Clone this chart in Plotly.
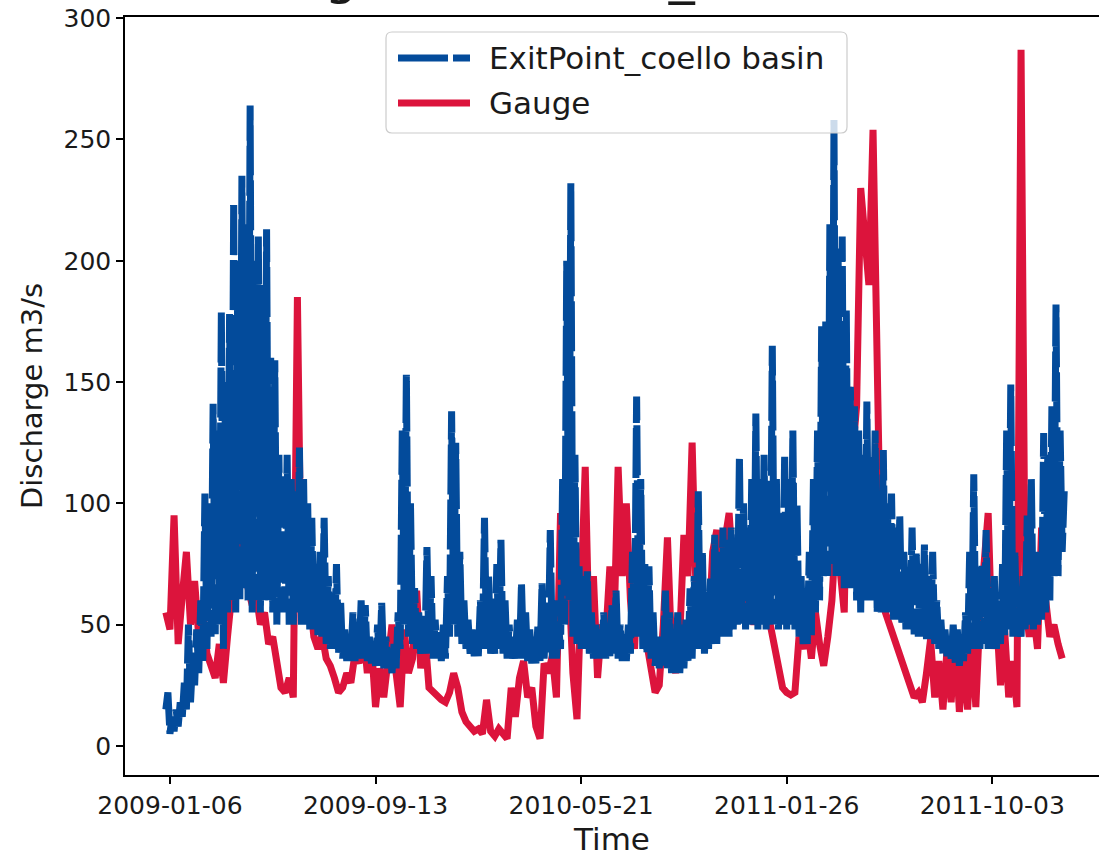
import pandas as pd
import plotly.graph_objects as go

# 5-day windows starting 2009-01-01
start_date = "2009-01-01"
step = "5D"

# Gauge discharge (m3/s), one reading per 5-day window
gauge = [
    55, 48, 95, 42, 62, 80, 50, 68, 45, 55,
    38, 33, 28, 42, 26, 45, 62, 88, 100, 72,
    66, 58, 62, 50, 55, 42, 45, 35, 24, 22,
    28, 20, 185, 55, 68, 62, 45, 40, 46, 36,
    33, 28, 22, 24, 30, 26, 38, 34, 48, 30,
    42, 16, 32, 20, 38, 50, 30, 16, 48, 30,
    36, 64, 32, 46, 24, 22, 20, 19, 18, 22,
    30, 24, 14, 10, 8, 6, 7, 5, 19, 6,
    4, 7, 5, 3, 24, 12, 28, 35, 20, 24,
    8, 3, 34, 30, 37, 20, 96, 60, 70, 30,
    11, 60, 115, 40, 70, 28, 50, 45, 74, 48,
    115, 70, 100, 60, 40, 85, 50, 42, 30, 22,
    25, 50, 86, 40, 30, 45, 87, 70, 125, 60,
    50, 40, 45, 80, 89, 72, 85, 96, 70, 60,
    55, 65, 58, 50, 60, 55, 52, 50, 40, 30,
    24, 22, 21, 22, 45, 40, 50, 36, 55, 42,
    33, 45, 60, 90, 70, 55, 148, 120, 140, 230,
    210, 190, 254, 140, 64, 55, 50, 45, 40, 33,
    28, 25, 20, 22, 18, 30, 44, 20, 35, 15,
    40, 18, 46, 14, 38, 15, 47, 16, 55, 75,
    96, 40, 55, 25, 48, 20, 35, 16, 287, 60,
    45, 55, 40, 90, 60, 45, 50, 42, 36,
]

# ExitPoint_coello basin: low and high reading in each 5-day window
exit_low = [
    15, 5, 6, 8, 12, 15, 18, 25, 30, 35,
    40, 45, 45, 50, 40, 55, 60, 55, 60, 65,
    60, 55, 60, 55, 60, 60, 55, 50, 55, 55,
    50, 50, 55, 50, 50, 48, 48, 45, 45, 42,
    40, 40, 38, 36, 35, 35, 35, 36, 36, 35,
    34, 33, 33, 32, 32, 30, 32, 40, 50, 45,
    42, 40, 38, 38, 38, 36, 36, 35, 36, 45,
    50, 45, 42, 40, 38, 37, 37, 40, 40, 38,
    38, 40, 38, 36, 36, 36, 36, 36, 35, 34,
    34, 35, 36, 38, 36, 36, 40, 50, 60, 45,
    42, 40, 40, 38, 36, 36, 36, 36, 37, 38,
    36, 35, 35, 38, 45, 45, 40, 38, 36, 33,
    32, 33, 32, 30, 30, 30, 32, 35, 36, 40,
    40, 38, 40, 42, 42, 45, 45, 45, 48, 50,
    50, 48, 50, 50, 48, 50, 48, 50, 50, 48,
    50, 48, 50, 48, 45, 42, 42, 45, 55, 60,
    70, 70, 75, 70, 70, 65, 65, 65, 60, 55,
    60, 60, 60, 55, 55, 55, 55, 52, 52, 50,
    48, 48, 46, 45, 45, 44, 44, 42, 40, 38,
    37, 36, 34, 33, 35, 38, 40, 40, 40, 42,
    40, 40, 40, 42, 45, 48, 45, 45, 45, 48,
    50, 48, 50, 52, 55, 60, 70, 70, 80,
]
exit_high = [
    22, 12, 15, 18, 26, 50, 35, 48, 60, 104,
    100, 141, 130, 179, 150, 178, 224, 200, 235, 215,
    264, 200, 210, 190, 213, 160, 159, 120, 112, 120,
    110, 105, 123, 110, 100, 94, 75, 80, 94, 70,
    60, 75, 60, 48, 45, 55, 45, 60, 58, 45,
    42, 50, 59, 45, 40, 42, 55, 130, 153, 100,
    65, 55, 50, 82, 70, 52, 48, 50, 70, 138,
    125, 80, 60, 52, 48, 46, 60, 94, 70, 55,
    75, 85, 60, 50, 45, 52, 67, 55, 48, 45,
    50, 67, 55, 89, 60, 50, 110, 200, 232, 120,
    74, 70, 72, 55, 50, 48, 55, 50, 58, 64,
    50, 46, 50, 80, 144, 110, 75, 74, 55, 45,
    42, 64, 55, 48, 55, 50, 52, 65, 70, 105,
    80, 60, 70, 87, 80, 90, 85, 90, 85, 119,
    100, 90, 110, 137, 110, 120, 100, 165, 110, 95,
    120, 110, 130, 100, 70, 65, 80, 110, 130, 173,
    175, 215, 258, 205, 210, 180, 148, 140, 130, 120,
    142, 120, 130, 105, 122, 100, 104, 90, 95, 80,
    70, 90, 80, 75, 83, 70, 80, 60, 52, 48,
    45, 50, 48, 45, 55, 80, 112, 70, 75, 89,
    65, 70, 60, 75, 130, 149, 80, 65, 70, 95,
    110, 80, 80, 129, 120, 140, 182, 130, 105,
]

dates = pd.date_range(start_date, periods=len(gauge), freq=step)
# each window: low reading, then high reading half a window later
exit_dates, exit_vals = [], []
for d, lo, hi in zip(dates, exit_low, exit_high):
    exit_dates += [d, d + pd.Timedelta(hours=60)]
    exit_vals += [lo, hi]

tick_dates = ["2009-01-06", "2009-09-13", "2010-05-21", "2011-01-26", "2011-10-03"]
y_ticks = [0, 50, 100, 150, 200, 250, 300]

colors = {"ExitPoint_coello basin": "#034b9b", "Gauge": "#dc143c"}
title_text = "Discharge - ExitPoint_coello basin"
BLUE_DASH = "50px,5px"

FONT = "DejaVu Sans"
TXT = "#1a1a1a"

fig = go.Figure()
fig.add_trace(go.Scatter(x=dates, y=gauge, mode="lines", name="Gauge",
                         line=dict(color=colors["Gauge"], width=7),
                         showlegend=False))
fig.add_trace(go.Scatter(x=exit_dates, y=exit_vals, mode="lines",
                         name="ExitPoint_coello basin",
                         line=dict(color=colors["ExitPoint_coello basin"], width=7,
                                   dash=BLUE_DASH),
                         showlegend=False))

W, H = 1099, 857
L, R, T, B = 125, 0, 17, 82
pw, ph = W - L - R, H - T - B


def px(xp):
    return (xp - L) / pw


def py(yp):
    return (H - B - yp) / ph


# legend box (rounded)
x0, x1, y0, y1, r = 386, 847, 32, 133, 6
rx, ry = r / pw, r / ph
X0, X1, Y0, Y1 = px(x0), px(x1), py(y1), py(y0)
path = (f"M {X0+rx},{Y0} L {X1-rx},{Y0} Q {X1},{Y0} {X1},{Y0+ry} "
        f"L {X1},{Y1-ry} Q {X1},{Y1} {X1-rx},{Y1} L {X0+rx},{Y1} "
        f"Q {X0},{Y1} {X0},{Y1-ry} L {X0},{Y0+ry} Q {X0},{Y0} {X0+rx},{Y0} Z")
shapes = [dict(type="path", path=path, xref="paper", yref="paper",
               line=dict(color="#cccccc", width=1.2),
               fillcolor="rgba(255,255,255,0.8)", layer="above")]
legend_rows = [(58, "ExitPoint_coello basin", BLUE_DASH), (103, "Gauge", "solid")]
annotations = []
for yrow, name, dash in legend_rows:
    shapes.append(dict(type="line", xref="paper", yref="paper",
                       x0=px(398), x1=px(470), y0=py(yrow), y1=py(yrow),
                       line=dict(color=colors[name], width=7, dash=dash),
                       layer="above"))
    annotations.append(dict(x=px(487), y=py(yrow), xref="paper", yref="paper",
                            text=name, showarrow=False, xanchor="left",
                            yanchor="middle",
                            font=dict(family=FONT, size=31, color=TXT)))

# title (mostly above the visible area, as in the reference)
annotations.append(dict(x=px(127), y=py(-25), xref="paper", yref="paper",
                        text=title_text, showarrow=False, xanchor="left",
                        yanchor="middle",
                        font=dict(family=FONT, size=52, color=TXT)))

fig.update_layout(
    width=W, height=H,
    margin=dict(l=L, r=R, t=T, b=B),
    paper_bgcolor="white", plot_bgcolor="white",
    font=dict(family=FONT, color=TXT),
    shapes=shapes, annotations=annotations,
    xaxis=dict(
        range=["2008-11-12 08:00", "2012-02-09 19:00"],
        tickvals=tick_dates, ticktext=tick_dates,
        showgrid=False, zeroline=False, automargin=False,
        showline=True, linecolor="black", linewidth=1.5, mirror=True,
        ticks="outside", ticklen=7, tickwidth=1.5, tickcolor="black",
        tickfont=dict(family=FONT, size=25, color=TXT),
        title=dict(text="Time", font=dict(family=FONT, size=31, color=TXT),
                   standoff=19),
    ),
    yaxis=dict(
        range=[-12, 300.5],
        tickvals=y_ticks,
        showgrid=False, zeroline=False, automargin=False,
        showline=True, linecolor="black", linewidth=1.5, mirror=False,
        ticks="outside", ticklen=7, tickwidth=1.5, tickcolor="black",
        tickfont=dict(family=FONT, size=25, color=TXT),
        title=dict(text="Discharge m3/s", font=dict(family=FONT, size=29, color=TXT),
                   standoff=12),
    ),
)

fig.write_html("out.html",
               config={"displayModeBar": False},
               post_script="document.body.style.margin='0';"
                           "document.body.style.overflow='hidden';")
